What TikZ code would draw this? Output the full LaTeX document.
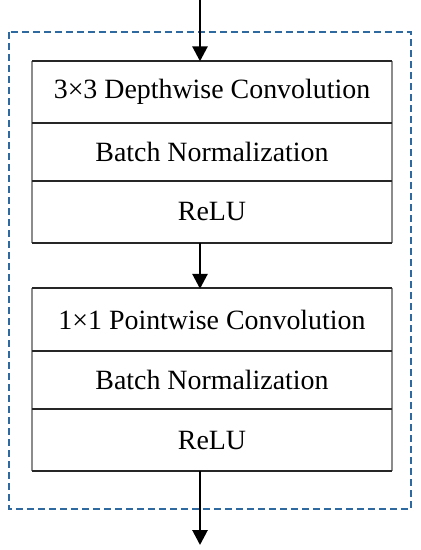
\documentclass[tikz,border=0pt]{standalone}
\usepackage{fontspec}
\setmainfont{Liberation Serif}
\usetikzlibrary{arrows.meta}
\definecolor{dashblue}{HTML}{2E6AA0}
\definecolor{boxgray}{HTML}{8C8C8C}
\begin{document}
\begin{tikzpicture}[x=1bp,y=-1bp,
  layer/.style={minimum width=360bp,minimum height=61bp,inner sep=0pt,font=\fontsize{28}{32}\selectfont},
  flow/.style={-{Triangle[width=15bp,length=15bp]},line width=2.8bp,black},
  sep/.style={line width=1.2bp,black!85}]
\useasboundingbox (0,0) rectangle (420,550);
\draw[dashblue,line width=2bp,dash pattern=on 7bp off 4bp] (9,32) rectangle (411,509);
% block 1
\node[layer] (a1) at (212,92) {3×3 Depthwise Convolution};
\node[layer] (a2) at (212,152) {Batch Normalization};
\node[layer] (a3) at (212,212) {ReLU};
% block 2
\node[layer] (b1) at (212,319.5) {1×1 Pointwise Convolution};
\node[layer] (b2) at (212,380) {Batch Normalization};
\node[layer] (b3) at (212,440) {ReLU};
\draw[boxgray,line width=1.2bp] (32,61) -- (32,243) (392,61) -- (392,243);
\draw[sep] (32,61) -- (392,61) (32,123) -- (392,123) (32,181) -- (392,181) (32,243) -- (392,243);
\draw[boxgray,line width=1.2bp] (32,288) -- (32,471) (392,288) -- (392,471);
\draw[sep] (32,288) -- (392,288) (32,351) -- (392,351) (32,409) -- (392,409) (32,471) -- (392,471);
\coordinate (in) at (200,0);
\coordinate (out) at (200,545);
\draw[flow] (in) -- (in |- a1.north);
\draw[flow] (a3.south -| in) -- (b1.north -| in);
\draw[flow] (b3.south -| in) -- (out);
\end{tikzpicture}
\end{document}
